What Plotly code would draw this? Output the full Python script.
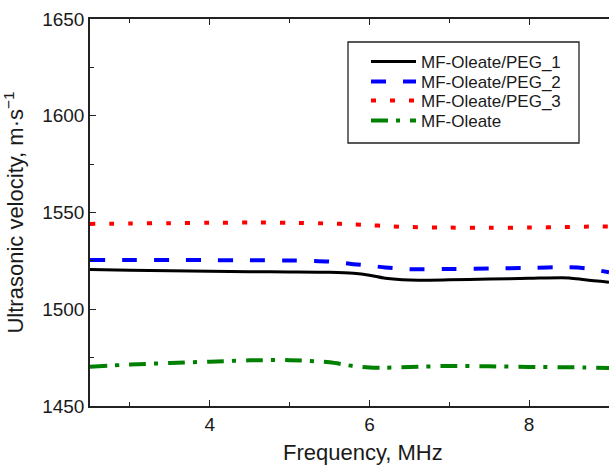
import plotly.graph_objects as go

freq = [2.5, 3.0, 3.5, 4.0, 4.5, 5.0, 5.5, 5.8, 6.0, 6.2, 6.5, 7.0, 7.5, 8.0, 8.5, 8.7, 9.0]
peg1 = [1520.6, 1520.2, 1519.9, 1519.6, 1519.4, 1519.3, 1519.1, 1518.6, 1517.6, 1516.0, 1515.1, 1515.2, 1515.6, 1516.0, 1516.2, 1515.2, 1514.0]
peg2 = [1525.5, 1525.5, 1525.4, 1525.4, 1525.3, 1525.2, 1524.6, 1523.3, 1522.5, 1521.6, 1520.7, 1520.8, 1521.0, 1521.4, 1521.7, 1521.2, 1519.1]
peg3 = [1544.1, 1544.3, 1544.5, 1544.7, 1544.8, 1544.7, 1544.3, 1543.9, 1543.5, 1543.0, 1542.5, 1542.2, 1542.1, 1542.2, 1542.5, 1542.7, 1542.8]
oleate = [1470.3, 1471.4, 1472.2, 1472.9, 1473.6, 1473.7, 1472.6, 1470.6, 1469.9, 1469.8, 1470.1, 1470.7, 1470.5, 1470.2, 1470.0, 1469.9, 1469.6]

names = ["MF-Oleate/PEG_1", "MF-Oleate/PEG_2", "MF-Oleate/PEG_3", "MF-Oleate"]
series = [peg1, peg2, peg3, oleate]
colors = ["#000000", "#0000ff", "#ff0000", "#008000"]
dashes = ["solid", "15px,17px", "5px,14px", "17px,8px,4px,10px"]
widths = [3, 4, 4, 4]

xticks = [4, 6, 8]
yticks = [1450, 1500, 1550, 1600, 1650]
x_title = "Frequency, MHz"
y_title = "Ultrasonic velocity, m·s<sup>−1</sup>"

W, H = 609, 469
L, R, T, B = 90, 0, 19, 63
pw, ph = W - L - R, H - T - B

def px_x(p):
    return (p - L) / pw

def px_y(p):
    return (H - B - p) / ph

legend_keys = ["legend", "legend2", "legend3", "legend4"]
legend_rows = [62, 82, 101, 121]

fig = go.Figure()
for name, ys, c, d, w, lk in zip(names, series, colors, dashes, widths, legend_keys):
    fig.add_trace(go.Scatter(
        x=freq, y=ys, name=name, mode="lines", legend=lk,
        line=dict(color=c, dash=d, width=w, shape="spline", smoothing=0.8),
    ))

# legend frame
bx0, bx1, by0, by1 = 348, 579, 42, 143
fig.add_shape(type="rect", xref="paper", yref="paper",
              x0=px_x(bx0), x1=px_x(bx1), y0=px_y(by1), y1=px_y(by0),
              line=dict(color="#222222", width=1.3), fillcolor="white", layer="below")

legend_layout = {}
for lk, row in zip(legend_keys, legend_rows):
    legend_layout[lk] = dict(
        x=px_x(366), y=px_y(row), xanchor="left", yanchor="middle",
        borderwidth=0, bgcolor="rgba(0,0,0,0)",
        font=dict(size=17, color="#1a1a1a"),
        itemwidth=45,
    )

# x-axis title (centred on the original, wider plot area)
fig.add_annotation(text=x_title, xref="paper", yref="paper",
                   x=px_x(363), y=px_y(452), xanchor="center", yanchor="middle",
                   showarrow=False, font=dict(size=22, color="#1a1a1a"))

axis_font = dict(family="Liberation Sans, Arial, sans-serif", size=19, color="#1a1a1a")
fig.update_layout(
    width=W, height=H,
    margin=dict(l=L, r=R, t=T, b=B, autoexpand=False),
    paper_bgcolor="white", plot_bgcolor="white",
    font=dict(family="Liberation Sans, Arial, sans-serif", color="#1a1a1a"),
    showlegend=True,
    xaxis=dict(
        range=[2.5, 9], tickvals=xticks, ticktext=[str(v) for v in xticks],
        showgrid=False, zeroline=False, automargin=False,
        showline=True, linecolor="#222222", linewidth=1.5, mirror="ticks",
        ticks="inside", ticklen=6, tickwidth=1.2, tickcolor="#222222",
        minor=dict(tickvals=[3, 5, 7, 9], ticks="inside", ticklen=4, tickcolor="#222222", tickwidth=1, showgrid=False),
        tickfont=axis_font,
    ),
    yaxis=dict(
        range=[1450, 1650], tickvals=yticks, ticktext=[str(v) for v in yticks],
        showgrid=False, zeroline=False, automargin=False,
        showline=True, linecolor="#222222", linewidth=1.5, mirror=False,
        ticks="inside", ticklen=6, tickwidth=1.2, tickcolor="#222222",
        minor=dict(tickvals=[1475, 1525, 1575, 1625], ticks="inside", ticklen=4, tickcolor="#222222", tickwidth=1, showgrid=False),
        tickfont=axis_font,
        title=dict(text=y_title, font=dict(size=22, color="#1a1a1a")),
    ),
    **legend_layout,
)

fig.write_html("out.html", config={"displayModeBar": False},
               post_script="document.body.style.margin='0';document.body.style.overflow='hidden';")
